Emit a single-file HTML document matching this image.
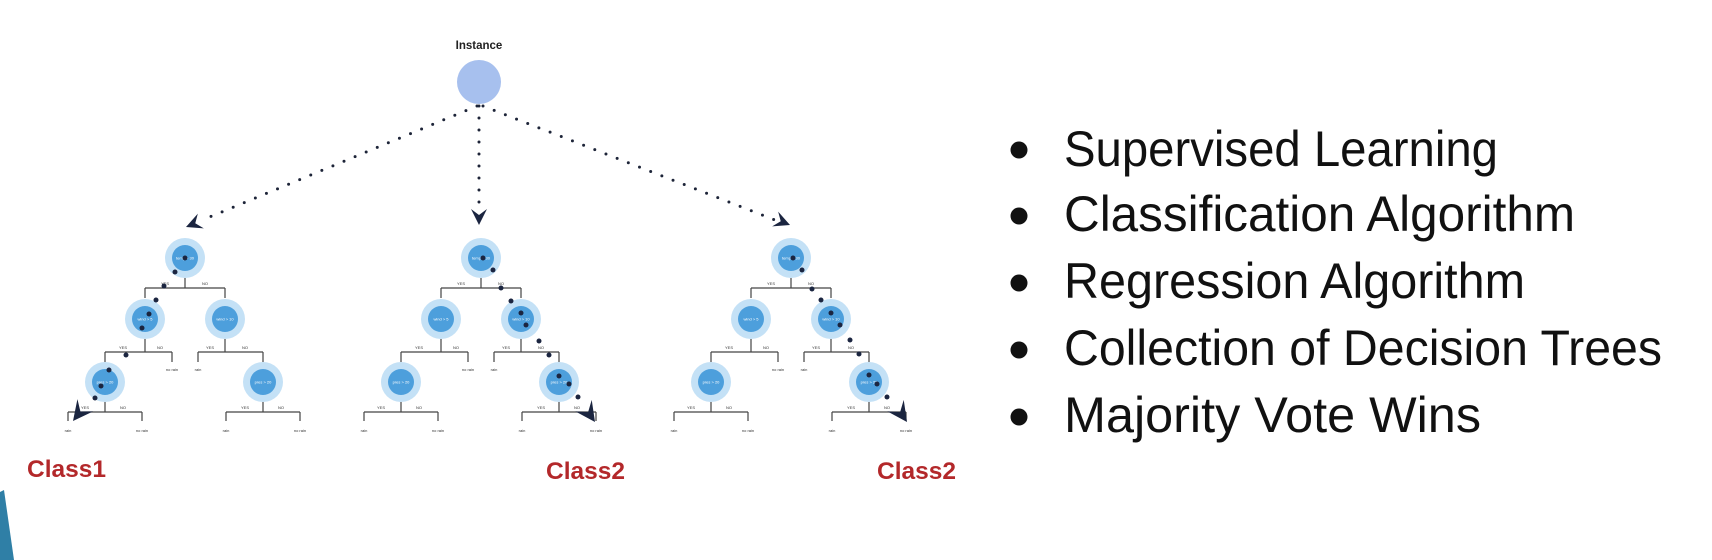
<!DOCTYPE html>
<html><head><meta charset="utf-8"><style>
html,body{margin:0;padding:0;background:#fff;}
svg{display:block;}
.n1{fill:#c4e1f6}.n2{fill:#4d9fdc}
.t{font-family:"Liberation Sans",sans-serif;font-size:4px;fill:#333;text-anchor:middle}
.w{font-family:"Liberation Sans",sans-serif;font-size:4px;fill:#fff;text-anchor:middle}
.e{stroke:#444;stroke-width:1.2;fill:none}
.b{font-family:"Liberation Sans",sans-serif;font-size:50px;fill:#111}
.c{font-family:"Liberation Sans",sans-serif;font-size:24.5px;font-weight:bold;fill:#b3282a}
</style></head><body>
<svg width="1712" height="560" viewBox="0 0 1712 560" xmlns="http://www.w3.org/2000/svg">
<polygon points="0,492 4,490 14,560 0,560" fill="#2f7fa6"/>
<text x="479" y="49" text-anchor="middle" font-family="Liberation Sans, sans-serif" font-size="11.5" font-weight="bold" fill="#222">Instance</text>
<circle cx="479" cy="82" r="22" fill="#a7c0ee"/>
<g stroke="#1d2438" stroke-width="3" stroke-linecap="round" stroke-dasharray="0 12" fill="none">
<line x1="477" y1="106" x2="200" y2="221"/>
<line x1="479" y1="106" x2="479" y2="212"/>
<line x1="483" y1="106" x2="775" y2="220"/>
</g>
<g fill="#1b2540">
<path d="M0,0 L-16,-8 L-10,0 L-16,8 Z" transform="translate(186,227) rotate(158)"/>
<path d="M0,0 L-16,-8 L-10,0 L-16,8 Z" transform="translate(479,225) rotate(90)"/>
<path d="M0,0 L-16,-8 L-10,0 L-16,8 Z" transform="translate(790,225) rotate(22)"/>
</g>

<!-- Tree 1 -->
<g transform="translate(185,258)">
<circle class="n1" r="20"/><circle class="n2" r="13"/><text class="w" y="1.5">temp &gt; 30</text>
<path class="e" d="M0,20V30M-40,30H40M-40,30V40M40,30V40"/>
<text class="t" x="-20" y="27">YES</text><text class="t" x="20" y="27">NO</text>
<circle class="n1" cx="-40" cy="61" r="20"/><circle class="n2" cx="-40" cy="61" r="13"/><text class="w" x="-40" y="62.5">wind &gt; 5</text>
<circle class="n1" cx="40" cy="61" r="20"/><circle class="n2" cx="40" cy="61" r="13"/><text class="w" x="40" y="62.5">wind &gt; 10</text>
<path class="e" d="M-40,81V94M-80,94H-13M-80,94V104M-13,94V104M40,81V94M13,94H78M13,94V104M78,94V104"/>
<text class="t" x="-62" y="91">YES</text><text class="t" x="-25" y="91">NO</text>
<text class="t" x="25" y="91">YES</text><text class="t" x="60" y="91">NO</text>
<text class="t" x="-13" y="113">no rain</text><text class="t" x="13" y="113">rain</text>
<circle class="n1" cx="-80" cy="124" r="20"/><circle class="n2" cx="-80" cy="124" r="13"/><text class="w" x="-80" y="125.5">pres &gt; 20</text>
<circle class="n1" cx="78" cy="124" r="20"/><circle class="n2" cx="78" cy="124" r="13"/><text class="w" x="78" y="125.5">pres &gt; 20</text>
<path class="e" d="M-80,144V154M-117,154H-43M-117,154V163M-43,154V163M78,144V154M41,154H115M41,154V163M115,154V163"/>
<text class="t" x="-100" y="151">YES</text><text class="t" x="-62" y="151">NO</text>
<text class="t" x="60" y="151">YES</text><text class="t" x="96" y="151">NO</text>
<text class="t" x="-117" y="174">rain</text><text class="t" x="-43" y="174">no rain</text>
<text class="t" x="41" y="174">rain</text><text class="t" x="115" y="174">no rain</text>
<g fill="#1b2540"><circle cx="0" cy="0" r="2.5"/><circle cx="-10" cy="14" r="2.5"/><circle cx="-21" cy="28" r="2.5"/><circle cx="-29" cy="42" r="2.5"/><circle cx="-36" cy="56" r="2.5"/><circle cx="-43" cy="70" r="2.5"/><circle cx="-59" cy="97" r="2.5"/><circle cx="-76" cy="112" r="2.5"/><circle cx="-84" cy="128" r="2.5"/><circle cx="-90" cy="140" r="2.5"/>
<path d="M0,0 L-20,-10 L-12,0 L-20,10 Z" transform="translate(-112,163) rotate(128)"/></g>
</g>

<!-- Tree 2 -->
<g transform="translate(481,258)">
<circle class="n1" r="20"/><circle class="n2" r="13"/><text class="w" y="1.5">temp &gt; 30</text>
<path class="e" d="M0,20V30M-40,30H40M-40,30V40M40,30V40"/>
<text class="t" x="-20" y="27">YES</text><text class="t" x="20" y="27">NO</text>
<circle class="n1" cx="-40" cy="61" r="20"/><circle class="n2" cx="-40" cy="61" r="13"/><text class="w" x="-40" y="62.5">wind &gt; 5</text>
<circle class="n1" cx="40" cy="61" r="20"/><circle class="n2" cx="40" cy="61" r="13"/><text class="w" x="40" y="62.5">wind &gt; 10</text>
<path class="e" d="M-40,81V94M-80,94H-13M-80,94V104M-13,94V104M40,81V94M13,94H78M13,94V104M78,94V104"/>
<text class="t" x="-62" y="91">YES</text><text class="t" x="-25" y="91">NO</text>
<text class="t" x="25" y="91">YES</text><text class="t" x="60" y="91">NO</text>
<text class="t" x="-13" y="113">no rain</text><text class="t" x="13" y="113">rain</text>
<circle class="n1" cx="-80" cy="124" r="20"/><circle class="n2" cx="-80" cy="124" r="13"/><text class="w" x="-80" y="125.5">pres &gt; 20</text>
<circle class="n1" cx="78" cy="124" r="20"/><circle class="n2" cx="78" cy="124" r="13"/><text class="w" x="78" y="125.5">pres &gt; 20</text>
<path class="e" d="M-80,144V154M-117,154H-43M-117,154V163M-43,154V163M78,144V154M41,154H115M41,154V163M115,154V163"/>
<text class="t" x="-100" y="151">YES</text><text class="t" x="-62" y="151">NO</text>
<text class="t" x="60" y="151">YES</text><text class="t" x="96" y="151">NO</text>
<text class="t" x="-117" y="174">rain</text><text class="t" x="-43" y="174">no rain</text>
<text class="t" x="41" y="174">rain</text><text class="t" x="115" y="174">no rain</text>
<g fill="#1b2540"><circle cx="2" cy="0" r="2.5"/><circle cx="12" cy="12" r="2.5"/><circle cx="20" cy="30" r="2.5"/><circle cx="30" cy="43" r="2.5"/><circle cx="40" cy="55" r="2.5"/><circle cx="45" cy="67" r="2.5"/><circle cx="58" cy="83" r="2.5"/><circle cx="68" cy="97" r="2.5"/><circle cx="78" cy="118" r="2.5"/><circle cx="88" cy="126" r="2.5"/><circle cx="97" cy="139" r="2.5"/>
<path d="M0,0 L-20,-10 L-12,0 L-20,10 Z" transform="translate(114,164) rotate(55)"/></g>
</g>

<!-- Tree 3 -->
<g transform="translate(791,258)">
<circle class="n1" r="20"/><circle class="n2" r="13"/><text class="w" y="1.5">temp &gt; 30</text>
<path class="e" d="M0,20V30M-40,30H40M-40,30V40M40,30V40"/>
<text class="t" x="-20" y="27">YES</text><text class="t" x="20" y="27">NO</text>
<circle class="n1" cx="-40" cy="61" r="20"/><circle class="n2" cx="-40" cy="61" r="13"/><text class="w" x="-40" y="62.5">wind &gt; 5</text>
<circle class="n1" cx="40" cy="61" r="20"/><circle class="n2" cx="40" cy="61" r="13"/><text class="w" x="40" y="62.5">wind &gt; 10</text>
<path class="e" d="M-40,81V94M-80,94H-13M-80,94V104M-13,94V104M40,81V94M13,94H78M13,94V104M78,94V104"/>
<text class="t" x="-62" y="91">YES</text><text class="t" x="-25" y="91">NO</text>
<text class="t" x="25" y="91">YES</text><text class="t" x="60" y="91">NO</text>
<text class="t" x="-13" y="113">no rain</text><text class="t" x="13" y="113">rain</text>
<circle class="n1" cx="-80" cy="124" r="20"/><circle class="n2" cx="-80" cy="124" r="13"/><text class="w" x="-80" y="125.5">pres &gt; 20</text>
<circle class="n1" cx="78" cy="124" r="20"/><circle class="n2" cx="78" cy="124" r="13"/><text class="w" x="78" y="125.5">pres &gt; 20</text>
<path class="e" d="M-80,144V154M-117,154H-43M-117,154V163M-43,154V163M78,144V154M41,154H115M41,154V163M115,154V163"/>
<text class="t" x="-100" y="151">YES</text><text class="t" x="-62" y="151">NO</text>
<text class="t" x="60" y="151">YES</text><text class="t" x="96" y="151">NO</text>
<text class="t" x="-117" y="174">rain</text><text class="t" x="-43" y="174">no rain</text>
<text class="t" x="41" y="174">rain</text><text class="t" x="115" y="174">no rain</text>
<g fill="#1b2540"><circle cx="2" cy="0" r="2.5"/><circle cx="11" cy="12" r="2.5"/><circle cx="21" cy="31" r="2.5"/><circle cx="30" cy="42" r="2.5"/><circle cx="40" cy="55" r="2.5"/><circle cx="49" cy="67" r="2.5"/><circle cx="59" cy="82" r="2.5"/><circle cx="68" cy="96" r="2.5"/><circle cx="78" cy="117" r="2.5"/><circle cx="86" cy="126" r="2.5"/><circle cx="96" cy="139" r="2.5"/>
<path d="M0,0 L-20,-10 L-12,0 L-20,10 Z" transform="translate(116,164) rotate(55)"/></g>
</g>

<text class="c" x="27" y="477">Class1</text>
<text class="c" x="546" y="479">Class2</text>
<text class="c" x="877" y="479">Class2</text>

<g fill="#111">
<circle cx="1019" cy="150" r="8.5"/><circle cx="1019" cy="216" r="8.5"/><circle cx="1019" cy="283" r="8.5"/><circle cx="1019" cy="350" r="8.5"/><circle cx="1019" cy="417" r="8.5"/>
</g>
<text class="b" x="1064" y="166" textLength="434" lengthAdjust="spacingAndGlyphs">Supervised Learning</text>
<text class="b" x="1064" y="231" textLength="511" lengthAdjust="spacingAndGlyphs">Classification Algorithm</text>
<text class="b" x="1064" y="298" textLength="461" lengthAdjust="spacingAndGlyphs">Regression Algorithm</text>
<text class="b" x="1064" y="365" textLength="598" lengthAdjust="spacingAndGlyphs">Collection of Decision Trees</text>
<text class="b" x="1064" y="432" textLength="417" lengthAdjust="spacingAndGlyphs">Majority Vote Wins</text>
</svg>
</body></html>
